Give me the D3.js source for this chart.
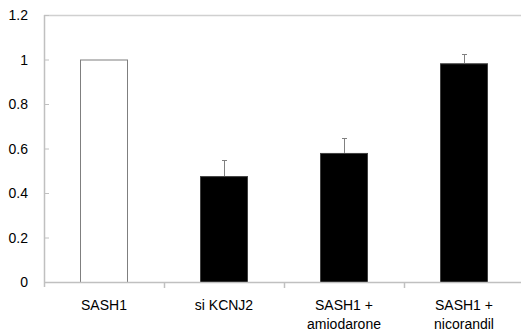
<!DOCTYPE html>
<html>
<head>
<meta charset="utf-8">
<script src="https://cdn.jsdelivr.net/npm/d3@7"></script>
<style>
  body { margin: 0; background: #fff; }
  text { font-family: "Liberation Sans", Arial, sans-serif; font-size: 14px; fill: #000; }
</style>
</head>
<body>
<div id="wrapper"></div>
<script>
// data
const categories = ["SASH1", "si KCNJ2", "SASH1 +\namiodarone", "SASH1 +\nnicorandil"]
const values = [1.0, 0.476, 0.580, 0.983]
const errors = [0, 0.071, 0.067, 0.040]
const fills = ["#ffffff", "#000000", "#000000", "#000000"]
const yTicks = [0, 0.2, 0.4, 0.6, 0.8, 1, 1.2]

const dataset = categories.map((c, i) => ({
  label: c, value: values[i], err: errors[i], fill: fills[i]
}))

// dimensions
const dimensions = {
  width: 521,
  height: 334,
  margin: { top: 15, right: -3, bottom: 52, left: 44 }
}
dimensions.boundedWidth = dimensions.width - dimensions.margin.left - dimensions.margin.right
dimensions.boundedHeight = dimensions.height - dimensions.margin.top - dimensions.margin.bottom

const wrapper = d3.select("#wrapper")
  .append("svg")
    .attr("width", dimensions.width)
    .attr("height", dimensions.height)

const bounds = wrapper.append("g")
  .attr("transform", `translate(${dimensions.margin.left}, ${dimensions.margin.top})`)

// scales
const xScale = d3.scaleBand()
  .domain(categories)
  .range([0, dimensions.boundedWidth])
  .paddingInner(0.6)
  .paddingOuter(0.3)

const yScale = d3.scaleLinear()
  .domain([0, 1.2])
  .range([dimensions.boundedHeight, 0])

// top border line
bounds.append("line")
  .attr("x1", 0)
  .attr("x2", dimensions.width)
  .attr("y1", yScale(1.2) + 0.5)
  .attr("y2", yScale(1.2) + 0.5)
  .attr("stroke", "#d0d0d0")
  .attr("stroke-width", 1.5)

// bars
bounds.selectAll("rect.bar")
  .data(dataset)
  .enter().append("rect")
    .attr("class", "bar")
    .attr("x", d => xScale(d.label) + 0.5)
    .attr("y", d => yScale(d.value) + 0.5)
    .attr("width", xScale.bandwidth() - 1)
    .attr("height", d => yScale(0) - yScale(d.value))
    .attr("fill", d => d.fill)
    .attr("stroke", d => d.fill === "#ffffff" ? "#7f7f7f" : "#404040")
    .attr("stroke-width", 1)

// error bars (upper only)
const errData = dataset.filter(d => d.err > 0)
const cx = d => Math.round(xScale(d.label) + xScale.bandwidth() / 2) + 0.5
bounds.selectAll("line.err")
  .data(errData)
  .enter().append("line")
    .attr("class", "err")
    .attr("x1", cx).attr("x2", cx)
    .attr("y1", d => yScale(d.value))
    .attr("y2", d => yScale(d.value + d.err))
    .attr("stroke", "#808080")
    .attr("stroke-width", 1)
bounds.selectAll("line.cap")
  .data(errData)
  .enter().append("line")
    .attr("class", "cap")
    .attr("x1", d => cx(d) - 2.5).attr("x2", d => cx(d) + 2.5)
    .attr("y1", d => Math.round(yScale(d.value + d.err)) + 0.5)
    .attr("y2", d => Math.round(yScale(d.value + d.err)) + 0.5)
    .attr("stroke", "#808080")
    .attr("stroke-width", 1)

// y axis
const yAxisGenerator = d3.axisRight(yScale)
  .tickValues(yTicks)
  .tickSize(5)
  .tickFormat(d3.format("~g"))

const yAxis = bounds.append("g")
  .call(yAxisGenerator)
yAxis.attr("font-size", null).attr("font-family", null)
yAxis.select(".domain").remove()
yAxis.selectAll(".tick line").attr("stroke", "#c0c0c0")
yAxis.selectAll(".tick text")
  .attr("x", -16)
  .attr("text-anchor", "end")
  .attr("dy", "0.35em")

bounds.append("line")
  .attr("x1", 0.5).attr("x2", 0.5)
  .attr("y1", yScale(1.2))
  .attr("y2", yScale(0) + 5)
  .attr("stroke", "#c0c0c0")
  .attr("stroke-width", 1.5)

// x axis
const xAxis = bounds.append("g")
  .attr("transform", `translate(0, ${dimensions.boundedHeight})`)

xAxis.append("line")
  .attr("x1", 0).attr("x2", dimensions.width)
  .attr("y1", 0.5).attr("y2", 0.5)
  .attr("stroke", "#c0c0c0")
  .attr("stroke-width", 1.5)

xAxis.selectAll("line.xtick")
  .data(categories.slice(1))
  .enter().append("line")
    .attr("class", "xtick")
    .attr("x1", d => xScale(d) - xScale.step() * 0.3 + 0.5)
    .attr("x2", d => xScale(d) - xScale.step() * 0.3 + 0.5)
    .attr("y1", 0).attr("y2", 6)
    .attr("stroke", "#c0c0c0")
    .attr("stroke-width", 1.5)

const labels = xAxis.selectAll("text.xlabel")
  .data(categories)
  .enter().append("text")
    .attr("class", "xlabel")
    .attr("text-anchor", "middle")
    .attr("x", d => xScale(d) + xScale.bandwidth() / 2)
    .attr("y", 28)

labels.selectAll("tspan")
  .data(d => d.split("\n"))
  .enter().append("tspan")
    .attr("x", function() { return d3.select(this.parentNode).attr("x") })
    .attr("dy", (d, i) => i === 0 ? 0 : 19)
    .text(d => d)
</script>
</body>
</html>
